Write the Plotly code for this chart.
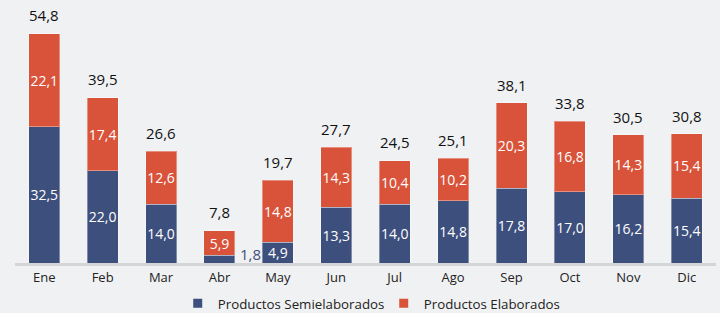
import plotly.graph_objects as go

months = ["Ene", "Feb", "Mar", "Abr", "May", "Jun", "Jul", "Ago", "Sep", "Oct", "Nov", "Dic"]
semi = [32.5, 22.0, 14.0, 1.8, 4.9, 13.3, 14.0, 14.8, 17.8, 17.0, 16.2, 15.4]
elab = [22.1, 17.4, 12.6, 5.9, 14.8, 14.3, 10.4, 10.2, 20.3, 16.8, 14.3, 15.4]
totals = [54.8, 39.5, 26.6, 7.8, 19.7, 27.7, 24.5, 25.1, 38.1, 33.8, 30.5, 30.8]

BLUE = "#3d4f7c"
RED = "#d9533a"
BG = "#f0f1f3"
FONT = "Open Sans, Noto Sans, sans-serif"


def fmt(v):
    return f"{v:.1f}".replace(".", ",")


semi_text = [fmt(v) if v >= 3 else "" for v in semi]
elab_text = [fmt(v) for v in elab]

fig = go.Figure()
fig.add_trace(go.Bar(
    x=months, y=semi, name="Productos Semielaborados", showlegend=False,
    marker=dict(color=BLUE, line=dict(color="rgba(255,255,255,0.35)", width=1)),
    text=semi_text, textposition="inside", insidetextanchor="middle", textangle=0,
    textfont=dict(color="white", size=14, family=FONT),
    constraintext="none", hoverinfo="skip",
))
fig.add_trace(go.Bar(
    x=months, y=elab, name="Productos Elaborados", showlegend=False,
    marker=dict(color=RED, line=dict(color="rgba(255,255,255,0.35)", width=1)),
    text=elab_text, textposition="inside", insidetextanchor="middle", textangle=0,
    textfont=dict(color="white", size=14, family=FONT),
    constraintext="none", hoverinfo="skip",
))
# legend entries (square markers, like the reference)
for name, col in [("Productos Semielaborados", BLUE), ("Productos Elaborados", RED)]:
    fig.add_trace(go.Scatter(
        x=[None], y=[None], mode="markers", name=name,
        marker=dict(symbol="square", size=9, color=col), hoverinfo="skip",
    ))

annotations = []
for m, t in zip(months, totals):
    annotations.append(dict(
        x=m, y=t, text=fmt(t), showarrow=False, yanchor="bottom", yshift=6,
        font=dict(size=15, color="#111111", family=FONT),
    ))
for m, v in zip(months, semi):
    if v < 3:
        annotations.append(dict(
            x=m, y=0, text=fmt(v), showarrow=False, yanchor="bottom", xanchor="left",
            xshift=19, yshift=-3,
            font=dict(size=15, color=BLUE, family=FONT),
        ))

fig.update_layout(
    barmode="stack",
    bargap=0.47,
    width=720, height=313,
    margin=dict(l=15, r=4, t=11, b=50, autoexpand=False),
    paper_bgcolor=BG,
    plot_bgcolor=BG,
    font=dict(family=FONT, color="#222222", size=13),
    showlegend=True,
    legend=dict(orientation="h", x=0.526, xanchor="center", y=-0.10, yanchor="top",
                font=dict(size=13.3, color="#222222", family=FONT),
                entrywidth=161, traceorder="normal"),
    annotations=annotations,
    uniformtext=dict(mode=False),
)
fig.update_xaxes(showline=True, linecolor="#d3d5d6", linewidth=3, ticks="",
                 tickfont=dict(size=13, color="#222222", family=FONT), showgrid=False,
                 range=[-0.5, 11.5])
fig.update_yaxes(range=[0, 60], visible=False, showgrid=False)

fig.write_html(
    "out.html",
    config={"displayModeBar": False},
    post_script="document.body.style.margin='0';document.body.style.background='%s';document.body.style.overflow='hidden';" % BG,
)
